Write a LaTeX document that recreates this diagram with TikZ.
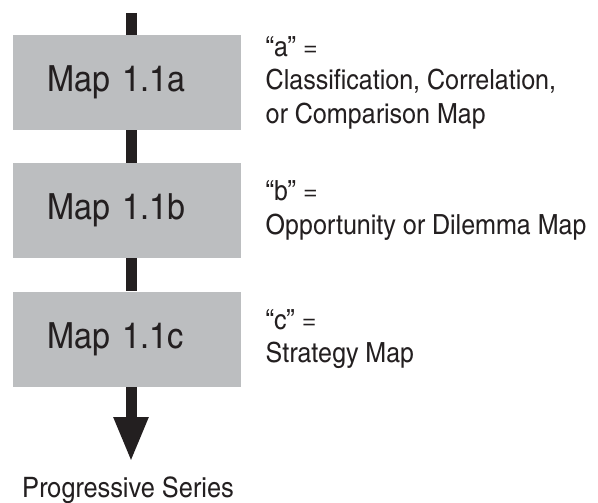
\documentclass[tikz,border=0pt]{standalone}
\usepackage{fontspec}
\setmainfont{texgyreheroscn}[Extension=.otf,UprightFont=*-regular,BoldFont=*-bold,FakeStretch=1.1]
\usetikzlibrary{arrows.meta,calc,positioning}
\definecolor{mapgray}{RGB}{188,190,192}
\definecolor{inkblack}{RGB}{35,31,32}
\tikzset{
	mapbox/.style={fill=mapgray, minimum width=4.56cm, minimum height=1.9cm, inner xsep=0.68cm, text width=3.2cm, align=left, font=\fontsize{20.5}{22}\selectfont, text=inkblack},
	maptext/.style={align=left, inner sep=0, font=\fontsize{15.8}{19}\selectfont, text=inkblack},
	spine/.style={line width=0.22cm, draw=inkblack}
}

\begin{document}
\begin{tikzpicture}
			%%%%% START %%%%%
			\useasboundingbox (0, 0) rectangle (11.96, 10.04);
			
			\node[mapbox] (mapa) at (2.54, 8.39) {Map 1.1a};
			\node[mapbox] (mapb) at (2.54, 5.83) {Map 1.1b};
			\node[mapbox] (mapc) at (2.54, 3.26) {Map 1.1c};
			
			\node[maptext, right=0.48cm of mapa] (texta) {“a” =\\Classification, Correlation,\\or Comparison Map};
			\node[maptext, right=0.48cm of mapb] (textb) {“b” =\\Opportunity or Dilemma Map};
			\node[maptext, right=0.48cm of mapc] (textc) {“c” =\\Strategy Map};
			
			\coordinate (top) at (2.62, 9.78);
			\coordinate (tip) at (2.62, 0.80);
			
			\draw[spine] (top) -- (top |- mapa.north);
			\draw[spine] (mapa.south -| top) -- (mapb.north -| top);
			\draw[spine] (mapb.south -| top) -- (mapc.north -| top);
			\draw[spine, -{Triangle[width=0.64cm, length=0.9cm]}] (mapc.south -| top) -- (tip);
			
			\node[anchor=base, inner sep=0, font=\fontsize{16}{19}\selectfont, text=inkblack] (series) at ($(tip)+(-0.06, -0.70)$) {Progressive Series};
			
			%%%%% END %%%%%
\end{tikzpicture}
\end{document}
